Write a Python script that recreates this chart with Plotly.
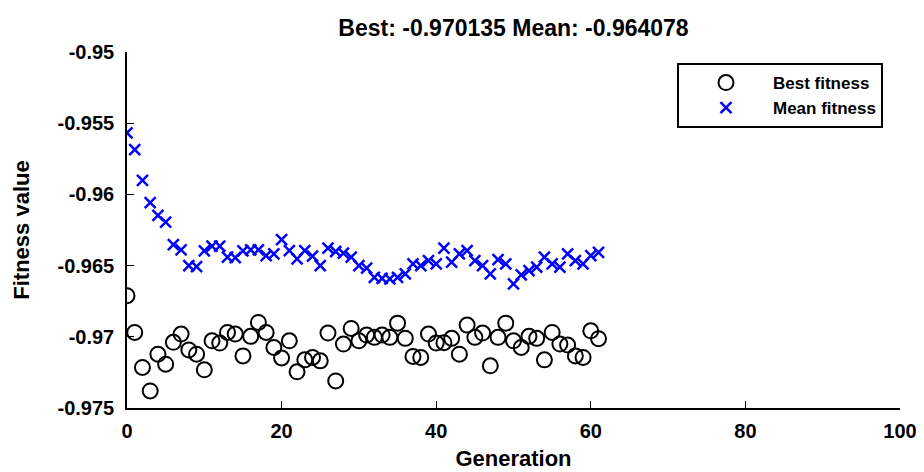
import plotly.graph_objects as go

# Per-generation fitness from the GA run
generations = list(range(62))

best_fitness = [
    -0.96711, -0.96969, -0.97215, -0.97380, -0.97122, -0.97192, -0.97039, -0.96981,
    -0.97092, -0.97122, -0.97232, -0.97028, -0.97044, -0.96969, -0.96981, -0.97134,
    -0.96997, -0.96899, -0.96969, -0.97075, -0.97149, -0.97028, -0.97246, -0.97162,
    -0.97145, -0.97169, -0.96974, -0.97310, -0.97051, -0.96941, -0.97028, -0.96988,
    -0.97004, -0.96988, -0.97004, -0.96904, -0.97011, -0.97138, -0.97145, -0.96981,
    -0.97044, -0.97041, -0.97011, -0.97122, -0.96918, -0.97004, -0.96974, -0.97204,
    -0.97004, -0.96904, -0.97028, -0.97075, -0.96997, -0.97011, -0.97162, -0.96969,
    -0.97051, -0.97058, -0.97134, -0.97145, -0.96958, -0.970135,
]

mean_fitness = [
    -0.95568, -0.95685, -0.95901, -0.96058, -0.96148, -0.96194, -0.96352, -0.96389,
    -0.96500, -0.96507, -0.96396, -0.96363, -0.96363, -0.96441, -0.96444, -0.96396,
    -0.96389, -0.96389, -0.96430, -0.96418, -0.96317, -0.96394, -0.96453, -0.96394,
    -0.96434, -0.96500, -0.96377, -0.96401, -0.96413, -0.96441, -0.96500, -0.96518,
    -0.96582, -0.96589, -0.96594, -0.96582, -0.96558, -0.96488, -0.96500, -0.96465,
    -0.96488, -0.96377, -0.96476, -0.96418, -0.96394, -0.96465, -0.96500, -0.96558,
    -0.96458, -0.96488, -0.96629, -0.96565, -0.96535, -0.96511, -0.96441, -0.96488,
    -0.96511, -0.96418, -0.96465, -0.96488, -0.96430, -0.964078,
]

x_ticks = [0, 20, 40, 60, 80, 100]
y_ticks = [-0.95, -0.955, -0.96, -0.965, -0.97, -0.975]
y_tick_text = ["-0.95", "-0.955", "-0.96", "-0.965", "-0.97", "-0.975"]

title_text = "Best: %g Mean: %g" % (best_fitness[-1], mean_fitness[-1])

FONT = "Liberation Sans, Arial, sans-serif"

fig = go.Figure()
fig.add_trace(go.Scatter(
    x=generations, y=best_fitness, mode="markers", name="Best fitness",
    marker=dict(symbol="circle-open", size=15, color="black",
                line=dict(color="black", width=2)),
))
fig.add_trace(go.Scatter(
    x=generations, y=mean_fitness, mode="markers", name="Mean fitness",
    marker=dict(symbol="x-thin-open", size=11, color="#0000ff",
                line=dict(color="#0000ff", width=2.5)),
))

axis_common = dict(
    showline=True, linecolor="black", linewidth=1.5, mirror=False,
    ticks="inside", ticklen=7, tickwidth=1.2, tickcolor="black",
    showgrid=False, zeroline=False, automargin=False,
    tickfont=dict(family=FONT, size=20, color="black", weight="bold"),
)

fig.update_layout(
    width=924, height=472,
    margin=dict(l=127, r=24, t=52, b=64),
    paper_bgcolor="white", plot_bgcolor="white",
    font=dict(family=FONT, color="black"),
    title=dict(text=title_text, x=(127 + 900) / 2 / 924, xanchor="center",
               y=1 - 28 / 472, yanchor="middle",
               font=dict(family=FONT, size=23, color="black", weight="bold")),
    xaxis=dict(range=[0, 100], tickvals=x_ticks, ticklabelstandoff=4,
               title=dict(text="Generation", standoff=10,
                          font=dict(family=FONT, size=22, color="black", weight="bold")),
               **axis_common),
    yaxis=dict(range=[-0.975, -0.95], tickvals=y_ticks, ticktext=y_tick_text,
               ticklabelstandoff=7,
               title=dict(text="Fitness value", standoff=22,
                          font=dict(family=FONT, size=22, color="black", weight="bold")),
               **axis_common),
    legend=dict(
        x=(677 - 127) / 773, y=(408 - 63) / 356, xanchor="left", yanchor="top",
        bordercolor="black", borderwidth=2, bgcolor="white",
        font=dict(family=FONT, size=17, color="black", weight="bold"),
        entrywidth=212, itemwidth=84, tracegroupgap=0,
    ),
    showlegend=True,
)

fig.write_html("out.html")
